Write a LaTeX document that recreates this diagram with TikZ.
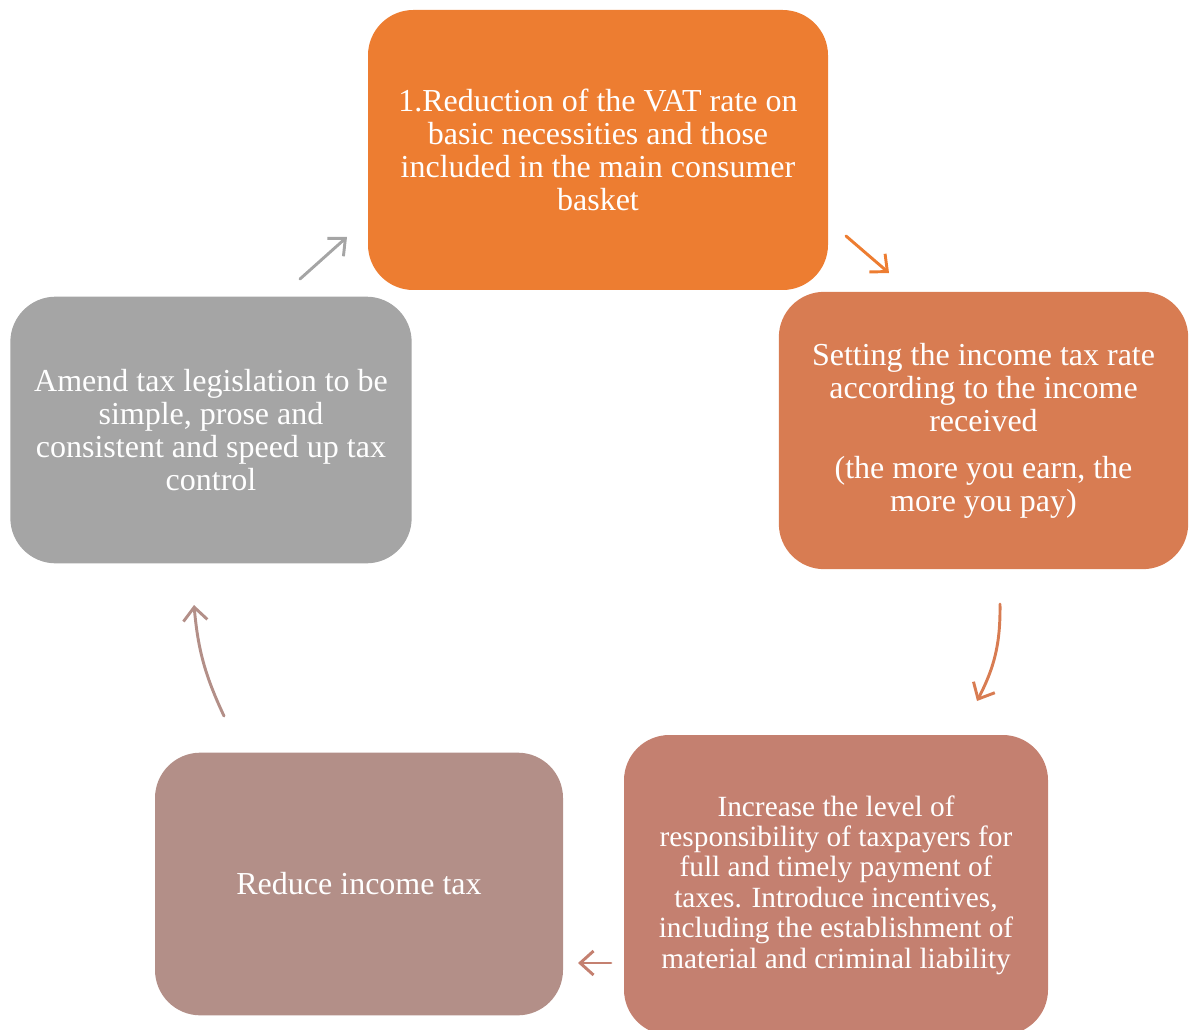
\documentclass[tikz,border=0pt]{standalone}
\usepackage{fontspec}
\setmainfont{Liberation Serif}
\usetikzlibrary{arrows.meta,calc}
\definecolor{cOrange}{HTML}{ED7D31}
\definecolor{cTerra}{HTML}{D87C52}
\definecolor{cRose}{HTML}{C48070}
\definecolor{cMauve}{HTML}{B38F88}
\definecolor{cGrey}{HTML}{A5A5A5}
\begin{document}
\begin{tikzpicture}[x=0.75pt,y=-0.75pt,
  stagebox/.style={rectangle,rounded corners=34pt,draw=none,text=white,
    align=center,inner sep=0pt,font=\fontsize{24}{24.75}\selectfont},
  cyclearrow/.style={line width=2.2pt,line cap=round,
    -{Straight Barb[length=10pt,width=18pt,line width=2.2pt]}}]
\useasboundingbox (0,0) rectangle (1194,1030);
\clip (0,0) rectangle (1194,1030);

% the five stages of the cycle
\node[stagebox,fill=cOrange,minimum width=345pt,minimum height=210pt] (n1) at (598,150)
  {1.Reduction of the VAT rate on\\basic necessities and those\\included in the main consumer\\basket};
\node[stagebox,fill=cTerra,minimum width=307pt,minimum height=208pt] (n2) at (983.5,430.5)
  {Setting the income tax rate\\according to the income\\received\\[10.5pt](the more you earn, the\\more you pay)};
\node[stagebox,fill=cRose,minimum width=318pt,minimum height=225pt,
  font=\fontsize{22}{22.8}\selectfont] (n3) at (836,885)
  {Increase the level of\\responsibility of taxpayers for\\full and timely payment of\\taxes. Introduce incentives,\\including the establishment of\\material and criminal liability};
\node[stagebox,fill=cMauve,minimum width=306pt,minimum height=197pt] (n4) at (359,884)
  {Reduce income tax};
\node[stagebox,fill=cGrey,minimum width=301pt,minimum height=200pt] (n5) at (211,430)
  {Amend tax legislation to be\\simple, prose and\\consistent and speed up tax\\control};

% arrow end points between the stages
\coordinate (a51) at (300,279);
\coordinate (a15) at (347,237);
\coordinate (a12) at (846,236);
\coordinate (a21) at (889,273);
\coordinate (a23) at (1000,604);
\coordinate (a32) at (977,701);
\coordinate (a34) at (611,963);
\coordinate (a43) at (578,963);
\coordinate (a45) at (224,716);
\coordinate (a54) at (194,605);

\draw[cyclearrow,cGrey] (a51) -- (a15);
\draw[cyclearrow,cOrange] (a12) -- (a21);
\draw[cyclearrow,cTerra] (a23) to[bend left=14] (a32);
\draw[cyclearrow,cRose] (a34) -- (a43);
\draw[cyclearrow,cMauve] (a45) to[bend left=10] (a54);
\end{tikzpicture}
\end{document}
